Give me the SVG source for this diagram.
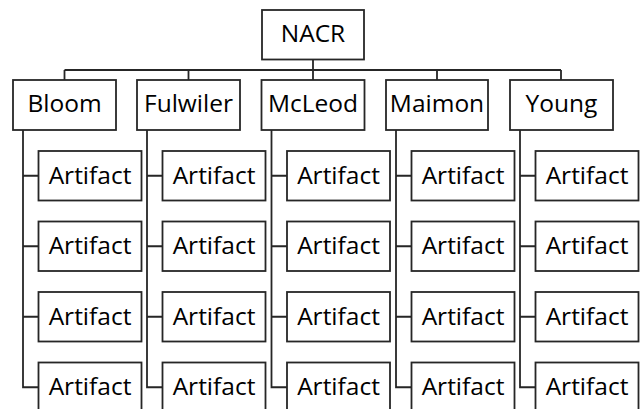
<svg xmlns="http://www.w3.org/2000/svg" width="641" height="409" viewBox="0 0 641 409">
<style>
.box{fill:#fff;stroke:#262626;stroke-width:1.8}
.lbl{font-family:"Open Sans","Noto Sans",sans-serif;font-size:24.5px;fill:#000;text-anchor:middle}
.con{fill:none;stroke:#262626;stroke-width:1.8}
</style>
<rect width="641" height="409" fill="#fff"/>
<g id="connectors" class="con">
<path d="M313 59V70M64.5 70H561M64.5 70V80M188.5 70V80M313 70V80M437 70V80M561 70V80"/>
<path d="M23 130V387.25H38.5M23 175.75H38.5M23 246.25H38.5M23 316.75H38.5"/>
<path d="M147 130V387.25H162.5M147 175.75H162.5M147 246.25H162.5M147 316.75H162.5"/>
<path d="M271.5 130V387.25H287M271.5 175.75H287M271.5 246.25H287M271.5 316.75H287"/>
<path d="M396 130V387.25H411.5M396 175.75H411.5M396 246.25H411.5M396 316.75H411.5"/>
<path d="M520 130V387.25H535.5M520 175.75H535.5M520 246.25H535.5M520 316.75H535.5"/>
</g>
<g id="nacr"><rect class="box" x="262" y="10" width="102" height="49.5"/><text class="lbl" x="313" y="42.3">NACR</text></g>
<g id="bloom"><rect class="box" x="13" y="80" width="103" height="50"/><text class="lbl" x="64.5" y="112">Bloom</text></g>
<g id="fulwiler"><rect class="box" x="137" y="80" width="103" height="50"/><text class="lbl" x="188.5" y="112">Fulwiler</text></g>
<g id="mcleod"><rect class="box" x="261.5" y="80" width="103" height="50"/><text class="lbl" x="313" y="112">McLeod</text></g>
<g id="maimon"><rect class="box" x="386" y="80" width="102" height="50"/><text class="lbl" x="437" y="112">Maimon</text></g>
<g id="young"><rect class="box" x="510" y="80" width="103" height="50"/><text class="lbl" x="561.5" y="112">Young</text></g>

<g id="bloom-a1"><rect class="box" x="38.5" y="151" width="103" height="49.5"/><text class="lbl" x="90" y="183.5">Artifact</text></g>
<g id="bloom-a2"><rect class="box" x="38.5" y="221.5" width="103" height="49.5"/><text class="lbl" x="90" y="254">Artifact</text></g>
<g id="bloom-a3"><rect class="box" x="38.5" y="292" width="103" height="49.5"/><text class="lbl" x="90" y="324.5">Artifact</text></g>
<g id="bloom-a4"><rect class="box" x="38.5" y="362.5" width="103" height="49.5"/><text class="lbl" x="90" y="395">Artifact</text></g>

<g id="fulwiler-a1"><rect class="box" x="162.5" y="151" width="103" height="49.5"/><text class="lbl" x="214" y="183.5">Artifact</text></g>
<g id="fulwiler-a2"><rect class="box" x="162.5" y="221.5" width="103" height="49.5"/><text class="lbl" x="214" y="254">Artifact</text></g>
<g id="fulwiler-a3"><rect class="box" x="162.5" y="292" width="103" height="49.5"/><text class="lbl" x="214" y="324.5">Artifact</text></g>
<g id="fulwiler-a4"><rect class="box" x="162.5" y="362.5" width="103" height="49.5"/><text class="lbl" x="214" y="395">Artifact</text></g>

<g id="mcleod-a1"><rect class="box" x="287" y="151" width="103" height="49.5"/><text class="lbl" x="338.5" y="183.5">Artifact</text></g>
<g id="mcleod-a2"><rect class="box" x="287" y="221.5" width="103" height="49.5"/><text class="lbl" x="338.5" y="254">Artifact</text></g>
<g id="mcleod-a3"><rect class="box" x="287" y="292" width="103" height="49.5"/><text class="lbl" x="338.5" y="324.5">Artifact</text></g>
<g id="mcleod-a4"><rect class="box" x="287" y="362.5" width="103" height="49.5"/><text class="lbl" x="338.5" y="395">Artifact</text></g>

<g id="maimon-a1"><rect class="box" x="411.5" y="151" width="103" height="49.5"/><text class="lbl" x="463" y="183.5">Artifact</text></g>
<g id="maimon-a2"><rect class="box" x="411.5" y="221.5" width="103" height="49.5"/><text class="lbl" x="463" y="254">Artifact</text></g>
<g id="maimon-a3"><rect class="box" x="411.5" y="292" width="103" height="49.5"/><text class="lbl" x="463" y="324.5">Artifact</text></g>
<g id="maimon-a4"><rect class="box" x="411.5" y="362.5" width="103" height="49.5"/><text class="lbl" x="463" y="395">Artifact</text></g>

<g id="young-a1"><rect class="box" x="535.5" y="151" width="103" height="49.5"/><text class="lbl" x="587" y="183.5">Artifact</text></g>
<g id="young-a2"><rect class="box" x="535.5" y="221.5" width="103" height="49.5"/><text class="lbl" x="587" y="254">Artifact</text></g>
<g id="young-a3"><rect class="box" x="535.5" y="292" width="103" height="49.5"/><text class="lbl" x="587" y="324.5">Artifact</text></g>
<g id="young-a4"><rect class="box" x="535.5" y="362.5" width="103" height="49.5"/><text class="lbl" x="587" y="395">Artifact</text></g>
</svg>
